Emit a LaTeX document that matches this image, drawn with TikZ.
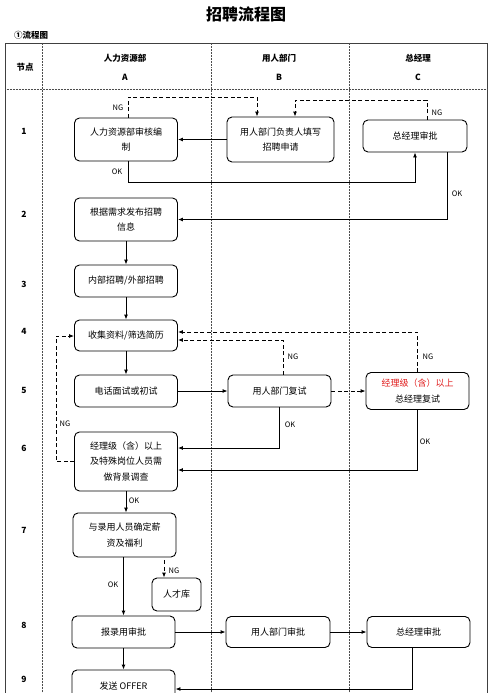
\documentclass[tikz,border=0pt]{standalone}
\usepackage{fontspec}
\setmainfont{Noto Sans CJK SC}
\usetikzlibrary{positioning,arrows.meta}
\definecolor{okred}{RGB}{225,30,30}
\tikzset{flow node/.style={draw,rounded corners=5pt,line width=0.9pt,minimum width=103pt,minimum height=32pt,align=center,inner sep=2pt,font=\fontsize{9}{15.5}\selectfont},
  tag/.style={font=\fontsize{7.5}{8}\selectfont,inner sep=0pt},
  head/.style={font=\bfseries\fontsize{8.5}{10}\selectfont,inner sep=0pt},
  arr/.style={line width=0.9pt,-{Latex[length=5pt,width=4pt]}},
  ng line/.style={arr,dash pattern=on 4pt off 2.5pt},
  grid line/.style={black!70,line width=0.5pt,densely dotted},}

\begin{document}
\begin{tikzpicture}[x=1pt,y=-1pt]
      \clip (0,0) rectangle (500,693);
      \fill[white] (0,0) rectangle (500,693);

      % title and table
      \node[font=\bfseries\fontsize{16}{18}\selectfont] (title) at (246,14) {招聘流程图};
      \node[head,anchor=west] (sub) at (14,35) {①流程图};
      \draw[black!75,line width=0.8pt] (5,710) -- (5,43) -- (487,43) -- (487,710);
      \draw[grid line] (5,89) -- (487,89);
      \draw[grid line] (42,43) -- (42,710);
      \draw[grid line] (211,43) -- (211,710);
      \draw[grid line] (349,43) -- (349,710);
      \node[head] (h0) at (25,67) {节点};
      \node[head] (h1) at (125,58) {人力资源部};
      \node[head] (h1b) at (125,77) {A};
      \node[head] (h2) at (279,58) {用人部门};
      \node[head] (h2b) at (279,77) {B};
      \node[head] (h3) at (418,58) {总经理};
      \node[head] (h3b) at (418,77) {C};
      \foreach \n/\y in {1/131,2/214,3/284,4/331,5/390,6/448,7/530,8/625,9/679}
        \node[head] (r\n) at (24,\y) {\n};

      % boxes
      \node[flow node,minimum height=43pt] (A1) at (126,139.5) {人力资源部审核编\\制};
      \node[flow node,minimum height=45pt,minimum width=107pt] (B1) at (280.5,139.5) {用人部门负责人填写\\招聘申请};
      \node[flow node,minimum width=104pt] (C1) at (415,136) {总经理审批};
      \node[flow node,minimum height=43pt] (A2) at (126,219.5) {根据需求发布招聘\\信息};
      \node[flow node] (A3) at (126,281) {内部招聘/外部招聘};
      \node[flow node,minimum height=31pt] (A4) at (126,335.5) {收集资料/筛选简历};
      \node[flow node] (A5) at (126,391) {电话面试或初试};
      \node[flow node] (B5) at (279.5,391) {用人部门复试};
      \node[flow node,minimum height=37pt] (C5) at (417.5,391) {\textcolor{okred}{经理级（含）以上}\\总经理复试};
      \node[flow node,minimum height=59pt] (A6) at (126,461.5) {经理级（含）以上\\及特殊岗位人员需\\做背景调查};
      \node[flow node,minimum height=44pt] (A7) at (124.5,535) {与录用人员确定薪\\资及福利};
      \node[flow node,minimum width=49pt,minimum height=33pt] (T) at (176.5,594.5) {人才库};
      \node[flow node] (A8) at (123.5,632) {报录用审批};
      \node[flow node,minimum height=31pt,minimum width=104pt] (B8) at (278,632) {用人部门审批};
      \node[flow node,minimum height=31pt] (C8) at (418.5,632) {总经理审批};
      \node[flow node] (A9) at (123.5,686) {发送 OFFER};

      % turning points
      \coordinate (k1) at (257,97);
      \coordinate (k2) at (295,100);
      \coordinate (k3) at (415,182);
      \coordinate (k4) at (283,340);
      \coordinate (k5) at (418,332);
      \coordinate (k6) at (56,336);
      \coordinate (k7) at (0,448);
      \coordinate (k8) at (0,470);
      \coordinate (k9) at (164,0);
      \coordinate (k10) at (0,689);

      % connectors
      \draw[arr] (B1) -- (A1);
      \draw[ng line] ([xshift=2pt]A1.north) |- (k1) -- (B1.north -| k1);
      \draw[ng line] ([xshift=12pt]C1.north) |- (k2) -- (B1.north -| k2);
      \draw[arr] ([xshift=2pt]A1.south) |- (k3) -- (C1.south);
      \draw[arr] ([xshift=32pt]C1.south) |- (A2.east);
      \draw[arr] (A2) -- (A3);
      \draw[arr] (A3) -- (A4);
      \draw[arr] (A4) -- (A5);
      \draw[arr] (A5) -- (B5);
      \draw[ng line] (B5) -- (C5);
      \draw[ng line] (B5.north -| k4) |- (A4.east |- k4);
      \draw[ng line] (C5.north) |- (A4.east |- k5);
      \draw[ng line] (A6.west) -| (k6) -- (A4.west |- k6);
      \draw[arr] (B5.south) |- (A6.east |- k7);
      \draw[arr] (C5.south) |- (A6.east |- k8);
      \draw[arr] (A6) -- (A6 |- A7.north);
      \draw[arr] (A7.south -| A8) -- (A8);
      \draw[ng line,shorten <=3pt] (A7.south -| k9) -- (T.north -| k9);
      \draw[arr] (A8) -- (B8);
      \draw[arr] (B8) -- (C8);
      \draw[arr] (A8) -- (A9);
      \draw[arr] ([xshift=-6pt]C8.south) |- (A9.east |- k10);

      % labels
      \node[tag] (t1) at (118,108) {NG};
      \node[tag] (t2) at (437,113) {NG};
      \node[tag] (t3) at (117,172) {OK};
      \node[tag] (t4) at (457,194) {OK};
      \node[tag] (t5) at (293,357) {NG};
      \node[tag] (t6) at (428,357) {NG};
      \node[tag] (t7) at (65,424) {NG};
      \node[tag] (t8) at (290,425) {OK};
      \node[tag] (t9) at (425,442) {OK};
      \node[tag] (t10) at (134,501) {OK};
      \node[tag] (t11) at (113,585) {OK};
      \node[tag] (t12) at (174,571) {NG};
    \end{tikzpicture}
\end{document}
